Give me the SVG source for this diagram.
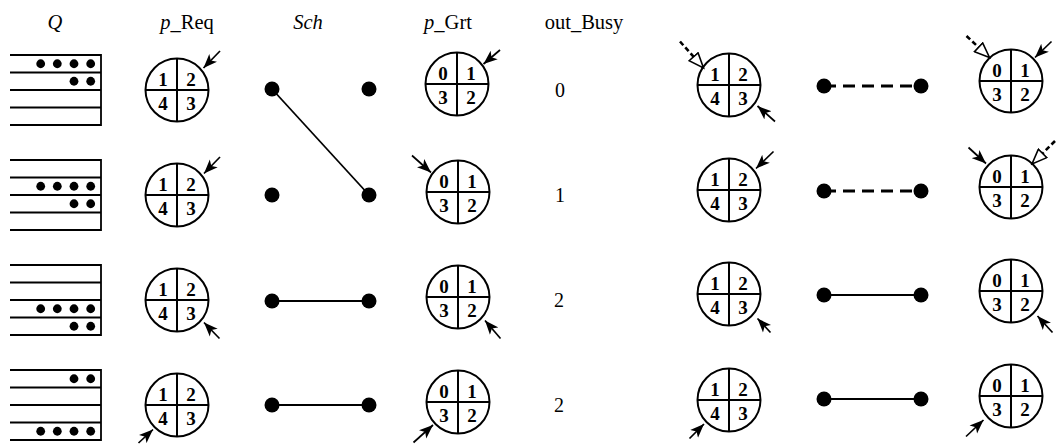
<svg xmlns="http://www.w3.org/2000/svg" xmlns:xlink="http://www.w3.org/1999/xlink" width="1062" height="444" viewBox="0 0 1062 444">
<style>
text{font-family:"Liberation Serif",serif}
.hdr{font-size:20.5px;fill:#000}
.it{font-style:italic}
.dg{font-size:19px;font-weight:bold;text-anchor:middle;fill:#000}
.val{font-size:20px;text-anchor:middle;fill:#000}
.ln{stroke:#000;stroke-width:1.8;fill:none}
.qd{fill:#000}
.cb{fill:#fff;stroke:#000;stroke-width:2}
.cx{stroke:#000;stroke-width:2}
.arr{stroke:#000;stroke-width:1.7;fill:none;marker-end:url(#ah)}
.oarr{stroke:#000;stroke-width:2.6;stroke-dasharray:5 3;fill:none;marker-end:url(#oh)}
.sw{stroke:#000;stroke-width:1.8;fill:none}
.swd{stroke:#000;stroke-width:3;stroke-dasharray:12 7;fill:none}
</style>
<defs>
<marker id="ah" markerUnits="userSpaceOnUse" markerWidth="16" markerHeight="12" refX="14" refY="6" orient="auto" viewBox="0 0 16 12">
<path d="M0,0.5 L14,6 L0,11.5 L3.5,6 z" fill="#000"/>
</marker>
<marker id="oh" markerUnits="userSpaceOnUse" markerWidth="18" markerHeight="14" refX="16" refY="7" orient="auto" viewBox="0 0 18 14">
<path d="M1,1 L16,7 L1,13 z" fill="#fff" stroke="#000" stroke-width="1.6" stroke-linejoin="miter"/>
</marker>
<g id="disc">
<circle cx="0" cy="0" r="31.5" class="cb"/>
<line x1="-31.5" y1="0" x2="31.5" y2="0" class="cx"/>
<line x1="0" y1="-31.5" x2="0" y2="31.5" class="cx"/>
</g>
<g id="queue">
<line x1="10" y1="-35" x2="101" y2="-35" class="ln"/>
<line x1="10" y1="-17.5" x2="101" y2="-17.5" class="ln"/>
<line x1="10" y1="0" x2="101" y2="0" class="ln"/>
<line x1="10" y1="17.5" x2="101" y2="17.5" class="ln"/>
<line x1="10" y1="35" x2="101" y2="35" class="ln"/>
<line x1="101" y1="-35.9" x2="101" y2="35.9" class="ln"/>
</g>
<g id="d4">
<circle cx="40.7" cy="0" r="4.4"/><circle cx="57.3" cy="0" r="4.4"/><circle cx="74" cy="0" r="4.4"/><circle cx="90.7" cy="0" r="4.4"/>
</g>
<g id="d2">
<circle cx="74" cy="0" r="4.4"/><circle cx="90.7" cy="0" r="4.4"/>
</g>
</defs>

<g id="headers">
<text class="hdr it" x="55" y="28.5" text-anchor="middle">Q</text>
<text class="hdr" x="187" y="28.5" text-anchor="middle"><tspan class="it">p</tspan>_Req</text>
<text class="hdr it" x="308" y="28.5" text-anchor="middle">Sch</text>
<text class="hdr" x="448" y="28.5" text-anchor="middle"><tspan class="it">p</tspan>_Grt</text>
<text class="hdr" x="584" y="28.5" text-anchor="middle">out_Busy</text>
</g>

<g id="queues">
<g id="q1" transform="translate(0,90)"><use xlink:href="#queue"/><use xlink:href="#d4" y="-26.25"/><use xlink:href="#d2" y="-8.75"/></g>
<g id="q2" transform="translate(0,195)"><use xlink:href="#queue"/><use xlink:href="#d4" y="-8.75"/><use xlink:href="#d2" y="8.75"/></g>
<g id="q3" transform="translate(0,300)"><use xlink:href="#queue"/><use xlink:href="#d4" y="8.75"/><use xlink:href="#d2" y="26.25"/></g>
<g id="q4" transform="translate(0,405)"><use xlink:href="#queue"/><use xlink:href="#d2" y="-26.25"/><use xlink:href="#d4" y="26.25"/></g>
</g>

<g id="preq1" transform="translate(177,90)"><use xlink:href="#disc"/><text class="dg" x="-14" y="-4.5">1</text><text class="dg" x="14" y="-4.5">2</text><text class="dg" x="-14" y="19.5">4</text><text class="dg" x="14" y="19.5">3</text></g>
<g id="preq2" transform="translate(177,195)"><use xlink:href="#disc"/><text class="dg" x="-14" y="-4.5">1</text><text class="dg" x="14" y="-4.5">2</text><text class="dg" x="-14" y="19.5">4</text><text class="dg" x="14" y="19.5">3</text></g>
<g id="preq3" transform="translate(177,300)"><use xlink:href="#disc"/><text class="dg" x="-14" y="-4.5">1</text><text class="dg" x="14" y="-4.5">2</text><text class="dg" x="-14" y="19.5">4</text><text class="dg" x="14" y="19.5">3</text></g>
<g id="preq4" transform="translate(177,405)"><use xlink:href="#disc"/><text class="dg" x="-14" y="-4.5">1</text><text class="dg" x="14" y="-4.5">2</text><text class="dg" x="-14" y="19.5">4</text><text class="dg" x="14" y="19.5">3</text></g>

<g id="pgrt1" transform="translate(457,84)"><use xlink:href="#disc"/><text class="dg" x="-14" y="-4.5">0</text><text class="dg" x="14" y="-4.5">1</text><text class="dg" x="-14" y="19.5">3</text><text class="dg" x="14" y="19.5">2</text></g>
<g id="pgrt2" transform="translate(458,192)"><use xlink:href="#disc"/><text class="dg" x="-14" y="-4.5">0</text><text class="dg" x="14" y="-4.5">1</text><text class="dg" x="-14" y="19.5">3</text><text class="dg" x="14" y="19.5">2</text></g>
<g id="pgrt3" transform="translate(458,297)"><use xlink:href="#disc"/><text class="dg" x="-14" y="-4.5">0</text><text class="dg" x="14" y="-4.5">1</text><text class="dg" x="-14" y="19.5">3</text><text class="dg" x="14" y="19.5">2</text></g>
<g id="pgrt4" transform="translate(458,402)"><use xlink:href="#disc"/><text class="dg" x="-14" y="-4.5">0</text><text class="dg" x="14" y="-4.5">1</text><text class="dg" x="-14" y="19.5">3</text><text class="dg" x="14" y="19.5">2</text></g>

<g id="rreq1" transform="translate(729,85)"><use xlink:href="#disc"/><text class="dg" x="-14" y="-4.5">1</text><text class="dg" x="14" y="-4.5">2</text><text class="dg" x="-14" y="19.5">4</text><text class="dg" x="14" y="19.5">3</text></g>
<g id="rreq2" transform="translate(729,190)"><use xlink:href="#disc"/><text class="dg" x="-14" y="-4.5">1</text><text class="dg" x="14" y="-4.5">2</text><text class="dg" x="-14" y="19.5">4</text><text class="dg" x="14" y="19.5">3</text></g>
<g id="rreq3" transform="translate(729,294)"><use xlink:href="#disc"/><text class="dg" x="-14" y="-4.5">1</text><text class="dg" x="14" y="-4.5">2</text><text class="dg" x="-14" y="19.5">4</text><text class="dg" x="14" y="19.5">3</text></g>
<g id="rreq4" transform="translate(729,400)"><use xlink:href="#disc"/><text class="dg" x="-14" y="-4.5">1</text><text class="dg" x="14" y="-4.5">2</text><text class="dg" x="-14" y="19.5">4</text><text class="dg" x="14" y="19.5">3</text></g>

<g id="rgrt1" transform="translate(1011,81)"><use xlink:href="#disc"/><text class="dg" x="-14" y="-4.5">0</text><text class="dg" x="14" y="-4.5">1</text><text class="dg" x="-14" y="19.5">3</text><text class="dg" x="14" y="19.5">2</text></g>
<g id="rgrt2" transform="translate(1011,187)"><use xlink:href="#disc"/><text class="dg" x="-14" y="-4.5">0</text><text class="dg" x="14" y="-4.5">1</text><text class="dg" x="-14" y="19.5">3</text><text class="dg" x="14" y="19.5">2</text></g>
<g id="rgrt3" transform="translate(1011,291)"><use xlink:href="#disc"/><text class="dg" x="-14" y="-4.5">0</text><text class="dg" x="14" y="-4.5">1</text><text class="dg" x="-14" y="19.5">3</text><text class="dg" x="14" y="19.5">2</text></g>
<g id="rgrt4" transform="translate(1011,396)"><use xlink:href="#disc"/><text class="dg" x="-14" y="-4.5">0</text><text class="dg" x="14" y="-4.5">1</text><text class="dg" x="-14" y="19.5">3</text><text class="dg" x="14" y="19.5">2</text></g>

<g id="busy">
<text class="val" x="560" y="97">0</text>
<text class="val" x="560" y="202">1</text>
<text class="val" x="559" y="307">2</text>
<text class="val" x="559" y="412">2</text>
</g>

<g id="connectors">
<line x1="272" y1="89" x2="369" y2="195" class="sw"/>
<line x1="272" y1="301" x2="369" y2="301" class="sw"/>
<line x1="272" y1="405" x2="369" y2="405" class="sw"/>
<line x1="824" y1="86" x2="921" y2="86" class="swd"/>
<line x1="824" y1="191" x2="921" y2="191" class="swd"/>
<line x1="824" y1="295" x2="921" y2="295" class="sw"/>
<line x1="824" y1="399" x2="921" y2="399" class="sw"/>
<g class="qd">
<circle cx="272" cy="89" r="7.5"/><circle cx="369" cy="89" r="7.5"/>
<circle cx="272" cy="195" r="7.5"/><circle cx="369" cy="195" r="7.5"/>
<circle cx="272" cy="301" r="7.5"/><circle cx="369" cy="301" r="7.5"/>
<circle cx="272" cy="405" r="7.5"/><circle cx="369" cy="405" r="7.5"/>
<circle cx="824" cy="86" r="7.5"/><circle cx="921" cy="86" r="7.5"/>
<circle cx="824" cy="191" r="7.5"/><circle cx="921" cy="191" r="7.5"/>
<circle cx="824" cy="295" r="7.5"/><circle cx="921" cy="295" r="7.5"/>
<circle cx="824" cy="399" r="7.5"/><circle cx="921" cy="399" r="7.5"/>
</g>
<line x1="220" y1="51" x2="203.5" y2="68" class="arr"/>
<line x1="500" y1="50" x2="483.5" y2="64" class="arr"/>
<line x1="220" y1="157" x2="204" y2="173.5" class="arr"/>
<line x1="412" y1="155.5" x2="431" y2="172.5" class="arr"/>
<line x1="219.5" y1="338.5" x2="204" y2="322.5" class="arr"/>
<line x1="500.5" y1="338.5" x2="485" y2="320.5" class="arr"/>
<line x1="138.5" y1="443" x2="153" y2="429.5" class="arr"/>
<line x1="413.5" y1="442.5" x2="433" y2="425" class="arr"/>

<line x1="680" y1="41.5" x2="703.5" y2="68" class="oarr"/>
<line x1="775" y1="121.5" x2="757.5" y2="106" class="arr"/>
<line x1="966.5" y1="36" x2="989.5" y2="57.5" class="oarr"/>
<line x1="1051.5" y1="41.5" x2="1035" y2="57.5" class="arr"/>
<line x1="773.5" y1="151.5" x2="756" y2="168.5" class="arr"/>
<line x1="968.5" y1="147.5" x2="986" y2="163.5" class="arr"/>
<line x1="1055" y1="141" x2="1032" y2="164" class="oarr"/>
<line x1="770.5" y1="332.5" x2="757.5" y2="318.5" class="arr"/>
<line x1="1052.5" y1="332.5" x2="1037.5" y2="316" class="arr"/>
<line x1="689.5" y1="438.5" x2="704" y2="424" class="arr"/>
<line x1="966" y1="436.5" x2="983.5" y2="420" class="arr"/>
</g>
</svg>
